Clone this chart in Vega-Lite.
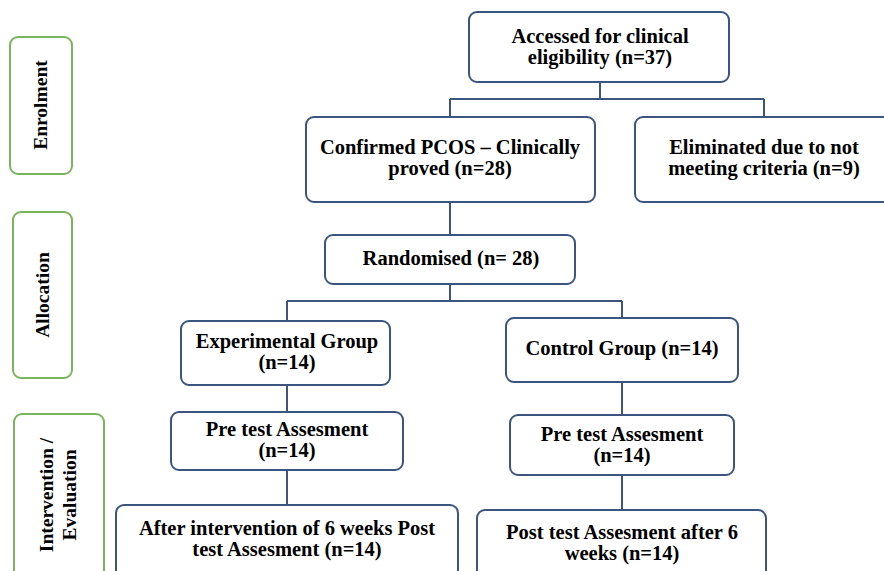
{
  "$schema": "https://vega.github.io/schema/vega-lite/v6.json",
  "width": 884,
  "height": 571,
  "padding": 0,
  "autosize": {"type": "none"},
  "background": "white",
  "config": {"view": {"stroke": null}},
  "datasets": {
    "links": [
      {"x1": 600, "x2": 600, "y1": 82, "y2": 99},
      {"x1": 450, "x2": 764, "y1": 99, "y2": 99},
      {"x1": 450, "x2": 450, "y1": 99, "y2": 117},
      {"x1": 764, "x2": 764, "y1": 99, "y2": 117},
      {"x1": 450, "x2": 450, "y1": 202, "y2": 235},
      {"x1": 450, "x2": 450, "y1": 284, "y2": 301},
      {"x1": 287, "x2": 622, "y1": 301, "y2": 301},
      {"x1": 287, "x2": 287, "y1": 301, "y2": 321},
      {"x1": 622, "x2": 622, "y1": 301, "y2": 318},
      {"x1": 287, "x2": 287, "y1": 385, "y2": 412},
      {"x1": 287, "x2": 287, "y1": 470, "y2": 505},
      {"x1": 622, "x2": 622, "y1": 382, "y2": 415},
      {"x1": 622, "x2": 622, "y1": 475, "y2": 510}
    ],
    "boxes": [
      {"x1": 10, "x2": 72, "y1": 37, "y2": 174, "kind": "stage"},
      {"x1": 13, "x2": 72, "y1": 212, "y2": 378, "kind": "stage"},
      {"x1": 14, "x2": 104, "y1": 414, "y2": 600, "kind": "stage"},
      {"x1": 469, "x2": 729, "y1": 12, "y2": 82, "kind": "step"},
      {"x1": 306, "x2": 595, "y1": 117, "y2": 202, "kind": "step"},
      {"x1": 635, "x2": 900, "y1": 117, "y2": 202, "kind": "step"},
      {"x1": 325, "x2": 575, "y1": 235, "y2": 284, "kind": "step"},
      {"x1": 181, "x2": 390, "y1": 321, "y2": 385, "kind": "step"},
      {"x1": 506, "x2": 738, "y1": 318, "y2": 382, "kind": "step"},
      {"x1": 171, "x2": 403, "y1": 412, "y2": 470, "kind": "step"},
      {"x1": 510, "x2": 734, "y1": 415, "y2": 475, "kind": "step"},
      {"x1": 116, "x2": 458, "y1": 505, "y2": 600, "kind": "step"},
      {"x1": 477, "x2": 766, "y1": 510, "y2": 600, "kind": "step"}
    ],
    "labels": [
      {"x": 600, "y": 37, "t": "Accessed for clinical\neligibility (n=37)"},
      {"x": 450, "y": 148, "t": "Confirmed PCOS – Clinically\nproved  (n=28)"},
      {"x": 764, "y": 148, "t": "Eliminated due to not\nmeeting criteria (n=9)"},
      {"x": 451, "y": 259, "t": "Randomised (n= 28)"},
      {"x": 287, "y": 342, "t": "Experimental Group\n(n=14)"},
      {"x": 622, "y": 349, "t": "Control Group (n=14)"},
      {"x": 287, "y": 430, "t": "Pre test Assesment\n(n=14)"},
      {"x": 622, "y": 435, "t": "Pre test Assesment\n(n=14)"},
      {"x": 287, "y": 529, "t": "After intervention of 6 weeks Post\ntest Assesment (n=14)"},
      {"x": 622, "y": 533, "t": "Post test Assesment after  6\nweeks (n=14)"}
    ],
    "stages": [
      {"x": 41, "y": 105, "t": "Enrolment"},
      {"x": 43, "y": 295, "t": "Allocation"},
      {"x": 47, "y": 495, "t": "Intervention /\nEvaluation"}
    ]
  },
  "layer": [
    {
      "data": {"name": "links"},
      "mark": {"type": "rule", "color": "#3B5580", "strokeWidth": 2, "clip": true},
      "encoding": {
        "x": {"field": "x1", "type": "quantitative", "scale": {"domain": [0, 884], "nice": false, "zero": false}, "axis": null},
        "x2": {"field": "x2"},
        "y": {"field": "y1", "type": "quantitative", "scale": {"domain": [0, 571], "nice": false, "zero": false, "reverse": true}, "axis": null},
        "y2": {"field": "y2"}
      }
    },
    {
      "data": {"name": "boxes"},
      "mark": {"type": "rect", "fill": "white", "strokeWidth": 2, "cornerRadius": 8, "clip": true},
      "encoding": {
        "x": {"field": "x1", "type": "quantitative", "scale": {"domain": [0, 884], "nice": false, "zero": false}, "axis": null},
        "x2": {"field": "x2"},
        "y": {"field": "y1", "type": "quantitative", "scale": {"domain": [0, 571], "nice": false, "zero": false, "reverse": true}, "axis": null},
        "y2": {"field": "y2"},
        "stroke": {"field": "kind", "type": "nominal", "scale": {"domain": ["stage", "step"], "range": ["#7AB55C", "#3B5580"]}, "legend": null}
      }
    },
    {
      "data": {"name": "labels"},
      "mark": {"type": "text", "font": "Liberation Serif", "fontWeight": "bold", "fontSize": 20.5, "lineHeight": 21, "lineBreak": "\n", "align": "center", "baseline": "middle", "color": "black"},
      "encoding": {
        "x": {"field": "x", "type": "quantitative", "scale": {"domain": [0, 884], "nice": false, "zero": false}, "axis": null},
        "y": {"field": "y", "type": "quantitative", "scale": {"domain": [0, 571], "nice": false, "zero": false, "reverse": true}, "axis": null},
        "text": {"field": "t"}
      }
    },
    {
      "data": {"name": "stages"},
      "mark": {"type": "text", "font": "Liberation Serif", "fontWeight": "bold", "fontSize": 19.5, "lineHeight": 23, "lineBreak": "\n", "align": "center", "baseline": "middle", "angle": 270, "color": "black"},
      "encoding": {
        "x": {"field": "x", "type": "quantitative", "scale": {"domain": [0, 884], "nice": false, "zero": false}, "axis": null},
        "y": {"field": "y", "type": "quantitative", "scale": {"domain": [0, 571], "nice": false, "zero": false, "reverse": true}, "axis": null},
        "text": {"field": "t"}
      }
    }
  ]
}
